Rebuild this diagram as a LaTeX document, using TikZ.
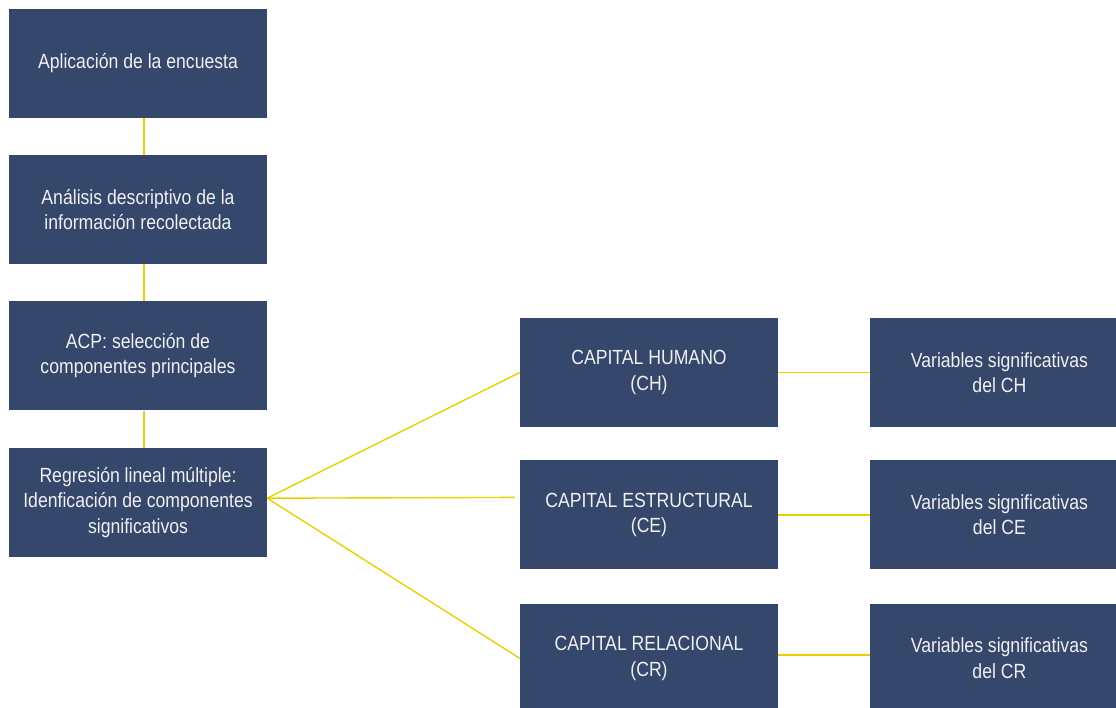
\documentclass[tikz,border=0pt]{standalone}
\usepackage{fontspec}
\setmainfont{Liberation Sans}[FakeStretch=0.86]
\usepackage{xcolor}
\usetikzlibrary{positioning}

\definecolor{azul}{RGB}{53,71,107}
\definecolor{amarillo}{RGB}{230,210,0}

\begin{document}
\begin{tikzpicture}[
  x=1pt, y=-1pt,
  font=\fontsize{20.5}{25.5}\selectfont,
  caja/.style={fill=azul, text=white!94!black, align=center,
               minimum width=258pt, minimum height=109pt, inner sep=0pt},
  enlace/.style={draw=amarillo, line width=1.4pt}
]
  \useasboundingbox (0,0) rectangle (1116,707);
  \clip (0,0) rectangle (1116,707);

  % pasos de la metodologia
  \node[caja] (enc) at (138,63) {Aplicación de la encuesta};
  \node[caja, below=37pt of enc] (desc) {Análisis descriptivo de la\\información recolectada};
  \node[caja, below=37pt of desc] (acp) {ACP: selección de\\componentes principales};
  \node[caja, below=37pt of acp] (reg) {Regresión lineal múltiple:\\Idenficación de componentes\\significativos};

  % tipos de capital
  \node[caja] (ch) at (649,372.5) {CAPITAL HUMANO\\(CH)};
  \node[caja, below=33pt of ch] (ce) {CAPITAL ESTRUCTURAL\\(CE)};
  \node[caja, below=34pt of ce] (cr) {CAPITAL RELACIONAL\\(CR)};

  % variables de cada capital
  \node[caja, right=92pt of ch] (vch) {Variables significativas\\del CH};
  \node[caja, right=92pt of ce] (vce) {Variables significativas\\del CE};
  \node[caja, right=92pt of cr] (vcr) {Variables significativas\\del CR};

  \draw[enlace] ([xshift=6pt]enc.south) -- ([xshift=6pt]desc.north);
  \draw[enlace] ([xshift=6pt]desc.south) -- ([xshift=6pt]acp.north);
  \draw[enlace] ([xshift=6pt]acp.south) -- ([xshift=6pt]reg.north);

  \draw[enlace] ([yshift=4pt]reg.east) -- (ch.west);
  \draw[enlace] ([yshift=4pt]reg.east) -- ([xshift=-5pt,yshift=17.5pt]ce.west);
  \draw[enlace] ([yshift=4pt]reg.east) -- (cr.west);

  \draw[enlace] (ch.east) -- (vch.west);
  \draw[enlace] (ce.east) -- (vce.west);
  \draw[enlace] ([yshift=3.5pt]cr.east) -- ([yshift=3.5pt]vcr.west);
\end{tikzpicture}
\end{document}
